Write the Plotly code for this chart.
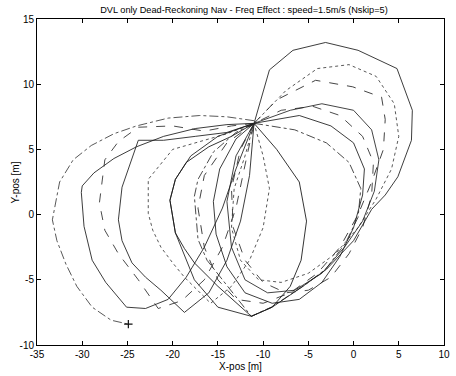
import plotly.graph_objects as go

TITLE = "DVL only Dead-Reckoning Nav - Freq Effect : speed=1.5m/s (Nskip=5)"
X_LABEL = "X-pos [m]"
Y_LABEL = "Y-pos [m]"
X_TICKS = [-35, -30, -25, -20, -15, -10, -5, 0, 5, 10]
Y_TICKS = [-10, -5, 0, 5, 10, 15]

# Trajectory loops (approximate)
x1 = [-11, -14, -17, -20.5, -24, -26.5, -29, -31, -32.5, -33.3, -32.8, -31.8, -30.6, -28.9, -26.8, -24.9]
y1 = [7.2, 7.5, 7.6, 7.4, 6.8, 6.2, 5.3, 4.2, 2.5, -0.4, -2.0, -3.8, -5.5, -7.1, -8.1, -8.4]

x2 = [-11, -14, -17.5, -21, -24, -26.5, -28.7, -30, -30.1, -29.8, -28.9, -27.4, -25.1, -23, -20.5, -18.5, -16.5, -14.5, -13, -11]
y2 = [7, 6.9, 6.6, 6.0, 5.2, 4.3, 3.2, 2.2, 1.7, -0.9, -3.5, -5.2, -7.1, -7.2, -6.5, -4.8, -2.5, 0.5, 3.5, 7]

x3 = [-11, -13.5, -16.5, -20, -23.8, -26, -27.5, -28.1, -27.5, -26, -23.8, -21.6, -19, -16.5, -14.5, -13, -12, -11]
y3 = [7, 6.8, 6.4, 6.8, 6.7, 5.6, 4.2, 0.9, -1.2, -3.0, -5.0, -7.2, -6.6, -5.0, -2.5, 0.5, 3.8, 7]

x4 = [-11, -14, -17.5, -21, -23.8, -25.6, -26, -25.6, -24.5, -23, -21.3, -18.7, -16, -14, -12.5, -11.5, -11]
y4 = [7, 6.3, 6.0, 5.7, 5.7, 2.1, -0.4, -2.0, -3.7, -4.8, -5.8, -7.5, -6.0, -3.5, -0.5, 3, 7]

x5 = [-11, -14, -17, -20, -22.7, -22.7, -22.2, -21.3, -20, -18.7, -15.8, -13.5, -11.5, -10, -9.3, -10, -11]
y5 = [7, 6.2, 5.6, 5.0, 2.7, 0.1, -1.2, -2.5, -3.7, -4.8, -6.8, -5.5, -3.5, -1.0, 2.0, 4.5, 7]

x6 = [-11, -13.5, -16, -18.5, -19.7, -20.3, -19.7, -18.7, -17.6, -15, -11.3, -9, -7, -5.8, -5.2, -6, -8.5, -11]
y6 = [7, 6.0, 5.2, 4.0, 2.7, 1.1, -1.4, -2.6, -3.7, -5.5, -7.8, -7.1, -5.5, -3.5, -0.5, 2.5, 5.0, 7]

x7 = [-11, -13, -15.5, -17.2, -17.6, -17.2, -16.2, -14.5, -11.3, -9.1, -5.6, -3.1, -0.9, 0.5, 0.8, -0.5, -3, -6.5, -11]
y7 = [7, 6.3, 4.8, 2.7, 1.4, -1.9, -3.5, -5.0, -7.8, -7.1, -5.5, -4.2, -2.2, -0.2, 2.0, 4.0, 5.5, 6.5, 7]

x8 = [-11, -13, -14.8, -15.5, -15.2, -14, -12, -9, -6, -3.5, -1.5, 0, 1, 1.2, 0, -2.5, -6, -11]
y8 = [7, 5.8, 3.5, 1, -1.5, -4, -6, -6.8, -6.5, -5.2, -3.2, -1, 1.5, 3.5, 5.5, 6.8, 7.6, 7]

x9 = [-11, -12.5, -13.5, -13.3, -12, -10, -7.5, -5, -2.5, -0.5, 1, 2, 2.2, 1, -1.5, -4.5, -8, -11]
y9 = [7, 5, 2, -1, -3.5, -5.2, -6, -5.8, -4.8, -3, -1, 1.5, 4, 6, 7.6, 8.3, 8.0, 7]

x10 = [-11, -9.3, -6.7, -3.1, 0.5, 4.8, 6.5, 6.4, 4.9, 3.5, 2, 0, -3, -5.6, -9, -11.3, -15, -17.6, -19.7, -20.3, -19.7, -18, -15, -11]
y10 = [7, 11.1, 12.6, 13.2, 12.6, 11.2, 8, 5.7, 2.9, 1.5, 0.4, -2, -4.2, -5.5, -7.1, -7.8, -7.1, -5, -1.4, 1.1, 2.7, 4.5, 6, 7]

x11 = [-11, -8.5, -4.2, -0.1, 3.1, 3.5, 3.3, 2, 0.5, -1.5, -4, -7, -10, -13, -15, -16.5, -17.2, -16.5, -14, -11]
y11 = [7, 8.8, 10.3, 9.8, 9, 7.3, 5, 2.5, 0, -2.5, -4.5, -6, -6.8, -6.5, -5, -2.5, 0.5, 3, 5.5, 7]

x12 = [-11, -7.5, -4, -0.5, 2.5, 4.5, 5, 4.2, 2.5, 0.5, -2, -5, -8, -10.5, -12.5, -13.5, -13.2, -12, -11]
y12 = [7, 9.5, 11.2, 11.5, 10.6, 8.5, 6, 3.5, 1.2, -1, -3, -4.5, -5.2, -5, -3.5, -1, 2, 4.5, 7]

x13 = [-11, -7, -3.5, 0, 2, 2.8, 2.3, 1, -1, -3.5, -6.5, -9.5, -12, -13.5, -14, -13, -11]
y13 = [7, 8.0, 8.5, 8.0, 6.5, 4.2, 1.8, -0.5, -2.5, -4.5, -5.8, -6, -5, -2.5, 1, 4.5, 7]

END_X = [-24.9]
END_Y = [-8.4]

loops = [
    (x1, y1, "dashdot", "#3a3a3a"),
    (x2, y2, "solid", "#1a1a1a"),
    (x3, y3, "dash", "#2a2a2a"),
    (x4, y4, "solid", "#1a1a1a"),
    (x5, y5, "dot", "#3a3a3a"),
    (x6, y6, "solid", "#111111"),
    (x7, y7, "dashdot", "#2a2a2a"),
    (x8, y8, "solid", "#1a1a1a"),
    (x9, y9, "dash", "#2a2a2a"),
    (x10, y10, "solid", "#1a1a1a"),
    (x11, y11, "dash", "#222222"),
    (x12, y12, "dot", "#3a3a3a"),
    (x13, y13, "solid", "#222222"),
]

fig = go.Figure()
for xs, ys, dash, col in loops:
    fig.add_trace(go.Scatter(x=xs, y=ys, mode="lines",
                             line=dict(color=col, width=0.85, dash=dash),
                             showlegend=False, hoverinfo="skip"))
fig.add_trace(go.Scatter(x=END_X, y=END_Y, mode="markers",
                         marker=dict(symbol="cross-thin", size=6,
                                     line=dict(color="#111111", width=1.2)),
                         showlegend=False))

font = dict(family="Liberation Sans, Arial, sans-serif", size=10, color="#000000")
axis_common = dict(showgrid=False, zeroline=False, showline=True, linecolor="#000000",
                   linewidth=1, mirror="ticks", ticks="inside", ticklen=4,
                   tickcolor="#000000", tickfont=font)

fig.update_layout(
    width=456, height=376,
    margin=dict(l=37, r=6, t=19, b=31),
    paper_bgcolor="white", plot_bgcolor="white",
    font=font,
    title=dict(text=TITLE, x=0.535, xanchor="center", y=0.973, yanchor="middle",
               font=dict(family="Liberation Sans, Arial, sans-serif", size=9.2,
                         color="#000000")),
    xaxis=dict(range=[-35, 10], tickvals=X_TICKS, ticktext=[str(v) for v in X_TICKS],
               title=dict(text=X_LABEL, standoff=3, font=font), **axis_common),
    yaxis=dict(range=[-10, 15], tickvals=Y_TICKS, ticktext=[str(v) for v in Y_TICKS],
               **axis_common),
    annotations=[dict(text=Y_LABEL, textangle=-90, xref="paper", yref="paper",
                      x=-0.053, y=0.5, xanchor="center", yanchor="middle",
                      showarrow=False, font=font)],
)

fig.write_html("out.html")
